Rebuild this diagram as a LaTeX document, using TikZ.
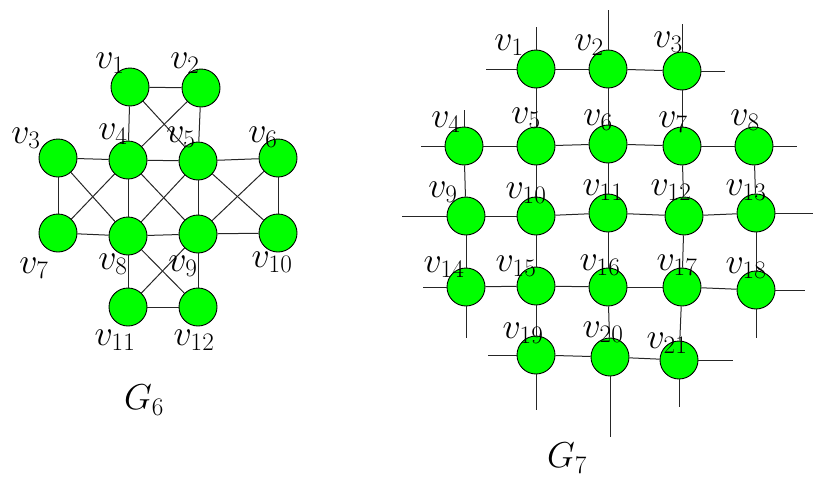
\RequirePackage{fix-cm}
\documentclass[tikz,border=0pt]{standalone}
\begin{document}
\begin{tikzpicture}[x=1pt,y=-1pt,
  vtx/.style={circle,draw=black,line width=0.9pt,fill={rgb,255:red,0;green,255;blue,0},minimum size=38pt,inner sep=0pt},
  lab/.style={font=\fontsize{36}{40}\selectfont,inner sep=0pt},
  edge/.style={draw=black!85,line width=1pt}]
\useasboundingbox (0,0) rectangle (813,479);
% ---------- G6 ----------
\node[vtx] (a1) at (130,87) {};
\node[vtx] (a2) at (201,88) {};
\node[vtx] (a3) at (58,158) {};
\node[vtx] (a4) at (128,160) {};
\node[vtx] (a5) at (198,161) {};
\node[vtx] (a6) at (278,158) {};
\node[vtx] (a7) at (58,233) {};
\node[vtx] (a8) at (128,236) {};
\node[vtx] (a9) at (198,234) {};
\node[vtx] (a10) at (278,233) {};
\node[vtx] (a11) at (128,307) {};
\node[vtx] (a12) at (198,307) {};
\foreach \u/\v in {a1/a2,a1/a4,a1/a5,a2/a4,a2/a5,a3/a4,a3/a7,a3/a8,a4/a7,a4/a5,a4/a8,a4/a9,a5/a8,a5/a9,a5/a6,a5/a10,a6/a9,a6/a10,a7/a8,a8/a9,a9/a10,a8/a11,a8/a12,a9/a11,a9/a12,a11/a12}
  \draw[edge] (\u) -- (\v);
\node[lab] (la1) at (110,63) {$v_1$};
\node[lab] (la2) at (185,63) {$v_2$};
\node[lab] (la3) at (26,138) {$v_3$};
\node[lab] (la4) at (113,134) {$v_4$};
\node[lab] (la5) at (181,137) {$v_5$};
\node[lab] (la6) at (263,137) {$v_6$};
\node[lab] (la7) at (34,268) {$v_7$};
\node[lab] (la8) at (113,264) {$v_8$};
\node[lab] (la9) at (183,266) {$v_9$};
\node[lab] (la10) at (272,262) {$v_{10}$};
\node[lab] (la11) at (115,340) {$v_{11}$};
\node[lab] (la12) at (194,340) {$v_{12}$};
\node[lab] (g6) at (144,400) {$G_6$};
% ---------- G7 ----------
\node[vtx] (b1) at (536,69) {};
\node[vtx] (b2) at (608,69) {};
\node[vtx] (b3) at (682,71) {};
\node[vtx] (b4) at (464,146) {};
\node[vtx] (b5) at (536,146) {};
\node[vtx] (b6) at (608,144) {};
\node[vtx] (b7) at (682,146) {};
\node[vtx] (b8) at (754,146) {};
\node[vtx] (b9) at (466,216) {};
\node[vtx] (b10) at (536,216) {};
\node[vtx] (b11) at (608,213) {};
\node[vtx] (b12) at (684,216) {};
\node[vtx] (b13) at (756,213) {};
\node[vtx] (b14) at (466,287) {};
\node[vtx] (b15) at (536,286) {};
\node[vtx] (b16) at (608,287) {};
\node[vtx] (b17) at (682,287) {};
\node[vtx] (b18) at (756,290) {};
\node[vtx] (b19) at (536,355) {};
\node[vtx] (b20) at (610,357) {};
\node[vtx] (b21) at (679,360) {};
\coordinate (e1l) at (486,69);
\coordinate (e1u) at (536,27);
\coordinate (e2u) at (608,10);
\coordinate (e3u) at (682,24);
\coordinate (e3r) at (725,71);
\coordinate (e4l) at (421,146);
\coordinate (e4u) at (464,110);
\coordinate (e8r) at (797,146);
\coordinate (e9l) at (402,216);
\coordinate (e13r) at (813,213);
\coordinate (e14l) at (423,287);
\coordinate (e14d) at (466,338);
\coordinate (e18r) at (805,290);
\coordinate (e18d) at (756,338);
\coordinate (e19l) at (488,355);
\coordinate (e19d) at (536,410);
\coordinate (e20d) at (610,437);
\coordinate (e21d) at (679,407);
\coordinate (e21r) at (733,360);
\foreach \u/\v in {e1l/b1,b1/b2,b2/b3,b3/e3r,b1/e1u,b2/e2u,b3/e3u,b1/b5,b2/b6,b3/b7,
  e4l/b4,b4/b5,b5/b6,b6/b7,b7/b8,b8/e8r,b4/e4u,b4/b9,b5/b10,b6/b11,b7/b12,b8/b13,
  e9l/b9,b9/b10,b10/b11,b11/b12,b12/b13,b13/e13r,b9/b14,b10/b15,b11/b16,b12/b17,b13/b18,
  e14l/b14,b14/b15,b15/b16,b16/b17,b17/b18,b18/e18r,b14/e14d,b18/e18d,b15/b19,b16/b20,b17/b21,
  e19l/b19,b19/b20,b20/b21,b21/e21r,b19/e19d,b20/e20d,b21/e21d}
  \draw[edge] (\u) -- (\v);
\node[lab] (lb1) at (509,45) {$v_1$};
\node[lab] (lb2) at (589,45) {$v_2$};
\node[lab] (lb3) at (668,42) {$v_3$};
\node[lab] (lb4) at (446,122) {$v_4$};
\node[lab] (lb5) at (526,118) {$v_5$};
\node[lab] (lb6) at (598,120) {$v_6$};
\node[lab] (lb7) at (673,122) {$v_7$};
\node[lab] (lb8) at (745,120) {$v_8$};
\node[lab] (lb9) at (443,192) {$v_9$};
\node[lab] (lb10) at (526,193) {$v_{10}$};
\node[lab] (lb11) at (603,190) {$v_{11}$};
\node[lab] (lb12) at (671,190) {$v_{12}$};
\node[lab] (lb13) at (746,190) {$v_{13}$};
\node[lab] (lb14) at (444,267) {$v_{14}$};
\node[lab] (lb15) at (516,266) {$v_{15}$};
\node[lab] (lb16) at (600,265) {$v_{16}$};
\node[lab] (lb17) at (677,265) {$v_{17}$};
\node[lab] (lb18) at (746,268) {$v_{18}$};
\node[lab] (lb19) at (523,333) {$v_{19}$};
\node[lab] (lb20) at (603,332) {$v_{20}$};
\node[lab] (lb21) at (667,343) {$v_{21}$};
\node[lab] (g7) at (567,458) {$G_7$};
\end{tikzpicture}
\end{document}
